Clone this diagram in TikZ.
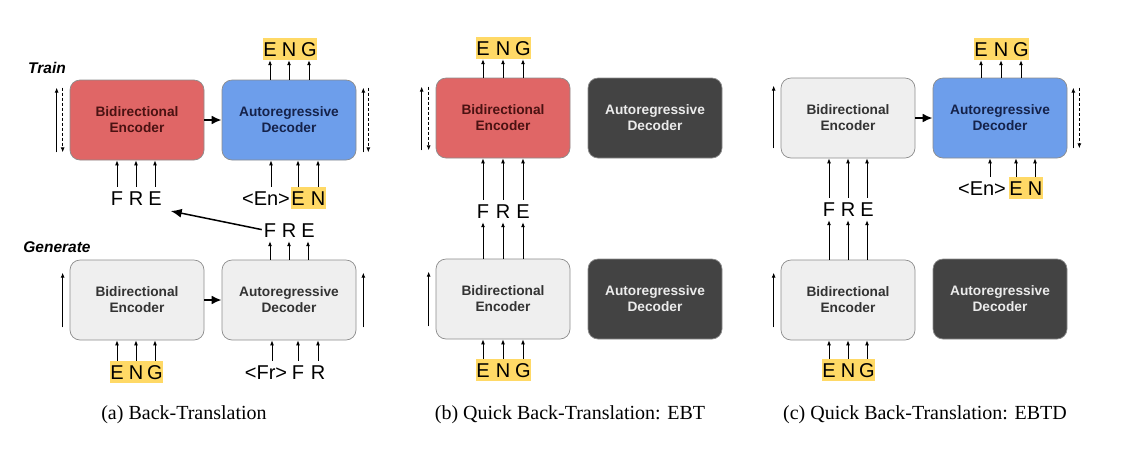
\documentclass[tikz,border=0pt]{standalone}
\usepackage{fontspec}
\setmainfont{Liberation Serif}
\newfontfamily\arial{Liberation Sans}
\usepackage{tikz}
\usetikzlibrary{arrows.meta, positioning, fit, backgrounds}
\definecolor{encred}{HTML}{E06666}
\definecolor{encredtext}{HTML}{4A1212}
\definecolor{decblue}{HTML}{6D9EEB}
\definecolor{decbluetext}{HTML}{15224A}
\definecolor{boxgray}{HTML}{EFEFEF}
\definecolor{boxdark}{HTML}{434343}
\definecolor{hlyellow}{HTML}{FFD966}

\begin{document}
\begin{tikzpicture}[
    x=1pt, y=-1pt,
    box/.style={rectangle, rounded corners=10pt, minimum width=134pt, minimum height=80pt,
        draw=black!45, line width=0.7pt, align=center,
        font=\arial\bfseries\fontsize{13.7}{16}\selectfont},
    enc/.style={box, fill=encred, text=encredtext},
    dec/.style={box, fill=decblue, text=decbluetext},
    idle/.style={box, fill=boxgray, text=black!80},
    off/.style={box, fill=boxdark, text=white!92!black},
    tok/.style={inner xsep=0pt, inner ysep=4pt, text height=14pt, text depth=0pt,
        font=\arial\fontsize{20}{20}\selectfont},
    hl/.style={fill=hlyellow, inner xsep=0.5pt, inner ysep=0pt},
    phase/.style={font=\arial\bfseries\itshape\fontsize{15.5}{18}\selectfont},
    caption/.style={font=\fontsize{20}{24}\selectfont},
    flow/.style={-{Latex[length=5pt,width=4pt]}, line width=0.9pt},
    back/.style={flow, dash pattern=on 3pt off 2pt},
    pass/.style={-{Latex[length=10pt,width=9pt]}, line width=2pt}
]
\useasboundingbox (0,0) rectangle (1125,451);

% (a) Back-Translation: train step
\node [phase] (train) at (47,68) {Train};
\node [enc] (encA) at (137,120) {Bidirectional\\Encoder};
\node [dec] (decA) at (289,120) {Autoregressive\\Decoder};
\node [tok] (aoE) at (270,49) {E};
\node [tok] (aoN) at (289,49) {N};
\node [tok] (aoG) at (309,49) {G};
\node [tok] (aiF) at (117,198) {F};
\node [tok] (aiR) at (136,198) {R};
\node [tok] (aiE) at (155,198) {E};
\node [tok] (adEn) at (266,198) {<En>};
\node [tok] (adE) at (298,198) {E};
\node [tok] (adN) at (318,198) {N};
    \draw [pass] (encA) -- (decA);
    \draw [flow] (decA.north -| aoE) -- (aoE);
    \draw [flow] (decA.north -| aoN) -- (aoN);
    \draw [flow] (decA.north -| aoG) -- (aoG);
    \draw [flow] (aiF) -- (aiF |- encA.south);
    \draw [flow] (aiR) -- (aiR |- encA.south);
    \draw [flow] (aiE) -- (aiE |- encA.south);
    \draw [flow] ([xshift=5pt]adEn.north) -- ([xshift=5pt]adEn.north |- decA.south);
    \draw [flow] (adE) -- (adE |- decA.south);
    \draw [flow] (adN) -- (adN |- decA.south);
    \draw [flow] ([shift={(-13,-8)}]encA.south west) -- ([shift={(-13,8)}]encA.north west);
    \draw [back] ([shift={(-7,8)}]encA.north west) -- ([shift={(-7,-8)}]encA.south west);
    \draw [flow] ([shift={(7,-8)}]decA.south east) -- ([shift={(7,8)}]decA.north east);
    \draw [back] ([shift={(12,8)}]decA.north east) -- ([shift={(12,-8)}]decA.south east);

% (a) Back-Translation: generate step
\node [phase] (generate) at (57,247) {Generate};
\node [idle] (encA2) at (137,300) {Bidirectional\\Encoder};
\node [idle] (decA2) at (289,300) {Autoregressive\\Decoder};
\node [tok] (boF) at (270,230) {F};
\node [tok] (boR) at (289,230) {R};
\node [tok] (boE) at (308,230) {E};
\node [tok] (biE) at (117,372) {E};
\node [tok] (biN) at (136,372) {N};
\node [tok] (biG) at (155,372) {G};
\node [tok] (bdFr) at (266,372) {<Fr>};
\node [tok] (bdF) at (298,372) {F};
\node [tok] (bdR) at (318,372) {R};
    \draw [pass] (encA2) -- (decA2);
    \draw [flow] (decA2.north -| boF) -- (boF);
    \draw [flow] (decA2.north -| boR) -- (boR);
    \draw [flow] (decA2.north -| boE) -- (boE);
    \draw [flow] (biE) -- (biE |- encA2.south);
    \draw [flow] (biN) -- (biN |- encA2.south);
    \draw [flow] (biG) -- (biG |- encA2.south);
    \draw [flow] ([xshift=6pt]bdFr.north) -- ([xshift=6pt]bdFr.north |- decA2.south);
    \draw [flow] (bdF) -- (bdF |- decA2.south);
    \draw [flow] (bdR) -- (bdR |- decA2.south);
    \draw [flow] ([shift={(-7,-13)}]encA2.south west) -- ([shift={(-7,13)}]encA2.north west);
    \draw [flow] ([shift={(7,-13)}]decA2.south east) -- ([shift={(7,13)}]decA2.north east);
    \draw [-{Latex[length=11pt,width=9pt]}, line width=1.5pt, shorten >=9pt, shorten <=2pt] (boF.west) -- (aiE.south east);
\node [caption] (capA) at (184,415) {(a) Back-Translation};

% (b) Quick Back-Translation: EBT
\node [enc] (encB) at (503,118) {Bidirectional\\Encoder};
\node [off] (decB) at (655,118) {Autoregressive\\Decoder};
\node [idle] (encB2) at (503,299) {Bidirectional\\Encoder};
\node [off] (decB2) at (655,299) {Autoregressive\\Decoder};
\node [tok] (coE) at (483,48) {E};
\node [tok] (coN) at (503,48) {N};
\node [tok] (coG) at (523,48) {G};
\node [tok] (cmF) at (483,211) {F};
\node [tok] (cmR) at (503,211) {R};
\node [tok] (cmE) at (523,211) {E};
\node [tok] (ciE) at (483,370) {E};
\node [tok] (ciN) at (503,370) {N};
\node [tok] (ciG) at (523,370) {G};
    \draw [flow] (encB.north -| coE) -- (coE);
    \draw [flow] (encB.north -| coN) -- (coN);
    \draw [flow] (encB.north -| coG) -- (coG);
    \draw [flow] (cmF) -- (cmF |- encB.south);
    \draw [flow] (cmR) -- (cmR |- encB.south);
    \draw [flow] (cmE) -- (cmE |- encB.south);
    \draw [flow] (encB2.north -| cmF) -- (cmF);
    \draw [flow] (encB2.north -| cmR) -- (cmR);
    \draw [flow] (encB2.north -| cmE) -- (cmE);
    \draw [flow] (ciE) -- (ciE |- encB2.south);
    \draw [flow] (ciN) -- (ciN |- encB2.south);
    \draw [flow] (ciG) -- (ciG |- encB2.south);
    \draw [flow] ([shift={(-14,-8)}]encB.south west) -- ([shift={(-14,9)}]encB.north west);
    \draw [back] ([shift={(-7,9)}]encB.north west) -- ([shift={(-7,-8)}]encB.south west);
    \draw [flow] ([shift={(-7,-13)}]encB2.south west) -- ([shift={(-7,13)}]encB2.north west);
\node [caption] (capB) at (570,415) {(b) Quick Back-Translation: EBT};

% (c) Quick Back-Translation: EBTD
\node [idle] (encC) at (848,118) {Bidirectional\\Encoder};
\node [dec] (decC) at (1000,118) {Autoregressive\\Decoder};
\node [idle] (encC2) at (848,300) {Bidirectional\\Encoder};
\node [off] (decC2) at (1000,299) {Autoregressive\\Decoder};
\node [tok] (doE) at (981,49) {E};
\node [tok] (doN) at (1001,49) {N};
\node [tok] (doG) at (1021,49) {G};
\node [tok] (ddEn) at (982,188) {<En>};
\node [tok] (ddE) at (1016,188) {E};
\node [tok] (ddN) at (1035,188) {N};
\node [tok] (dmF) at (829,209) {F};
\node [tok] (dmR) at (848,209) {R};
\node [tok] (dmE) at (867,209) {E};
\node [tok] (diE) at (829,370) {E};
\node [tok] (diN) at (848,370) {N};
\node [tok] (diG) at (867,370) {G};
    \draw [pass] (encC) -- (decC);
    \draw [flow] (decC.north -| doE) -- (doE);
    \draw [flow] (decC.north -| doN) -- (doN);
    \draw [flow] (decC.north -| doG) -- (doG);
    \draw [flow] ([xshift=8pt]ddEn.north) -- ([xshift=8pt]ddEn.north |- decC.south);
    \draw [flow] (ddE) -- (ddE |- decC.south);
    \draw [flow] (ddN) -- (ddN |- decC.south);
    \draw [flow] (dmF) -- (dmF |- encC.south);
    \draw [flow] (dmR) -- (dmR |- encC.south);
    \draw [flow] (dmE) -- (dmE |- encC.south);
    \draw [flow] (encC2.north -| dmF) -- (dmF);
    \draw [flow] (encC2.north -| dmR) -- (dmR);
    \draw [flow] (encC2.north -| dmE) -- (dmE);
    \draw [flow] (diE) -- (diE |- encC2.south);
    \draw [flow] (diN) -- (diN |- encC2.south);
    \draw [flow] (diG) -- (diG |- encC2.south);
    \draw [flow] ([shift={(-7,-10)}]encC.south west) -- ([shift={(-7,8)}]encC.north west);
    \draw [flow] ([shift={(6,-10)}]decC.south east) -- ([shift={(6,10)}]decC.north east);
    \draw [back] ([shift={(12,10)}]decC.north east) -- ([shift={(12,-10)}]decC.south east);
    \draw [flow] ([shift={(-7,-13)}]encC2.south west) -- ([shift={(-7,13)}]encC2.north west);
\node [caption] (capC) at (925,415) {(c) Quick Back-Translation: EBTD};

% yellow marks behind the English tokens
\begin{scope}[on background layer]
    \node [hl, fit=(aoE)(aoG)] {};
    \node [hl, fit=(adE)(adN)] {};
    \node [hl, fit=(biE)(biG)] {};
    \node [hl, fit=(coE)(coG)] {};
    \node [hl, fit=(ciE)(ciG)] {};
    \node [hl, fit=(doE)(doG)] {};
    \node [hl, fit=(ddE)(ddN)] {};
    \node [hl, fit=(diE)(diG)] {};
\end{scope}
\end{tikzpicture}
\end{document}
